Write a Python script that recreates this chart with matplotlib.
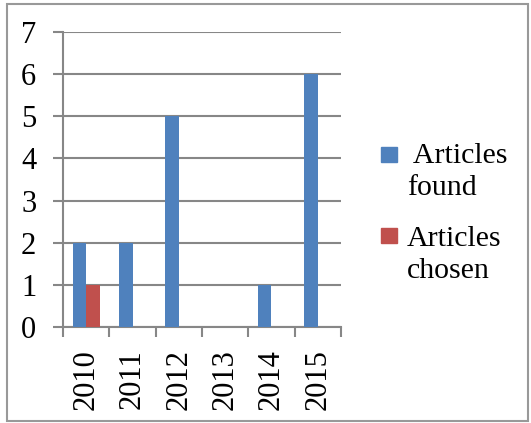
import matplotlib.pyplot as plt
from matplotlib.patches import Rectangle
import numpy as np

years = ['2010', '2011', '2012', '2013', '2014', '2015']
found = [2, 2, 5, 0, 1, 6]
chosen = [1, 0, 0, 0, 0, 0]
labels = [' Articles\nfound', 'Articles\nchosen']
colors = ['#4F81BD', '#C0504D']

W, H = 531, 423
plt.rcParams['font.family'] = ['Liberation Serif', 'DejaVu Serif']

fig = plt.figure(figsize=(W / 100, H / 100), dpi=100)
ax = fig.add_axes([63 / W, (H - 327) / H, (341 - 63) / W, (327 - 32) / H])

x = np.arange(len(years))
w = 0.29
ax.bar(x - w / 2, found, w, color=colors[0], zorder=3)
ax.bar(x + w / 2, chosen, w, color=colors[1], zorder=3)

grey = '#878787'
ax.set_xlim(-0.5, len(years) - 0.5)
ax.set_ylim(0, 7)
ax.set_yticks(range(8))
ax.yaxis.grid(True, color=grey, linewidth=1.5, zorder=0)
for s in ['top', 'right']:
    ax.spines[s].set_visible(False)
for s in ['left', 'bottom']:
    ax.spines[s].set_color(grey)
    ax.spines[s].set_linewidth(1.5)

ax.set_xticks(x)
ax.set_xticklabels(years, rotation=90)
ax.set_xticks(np.arange(len(years) + 1) - 0.5, minor=True)
ax.tick_params(axis='x', which='major', length=0, pad=16, labelsize=22)
ax.tick_params(axis='x', which='minor', length=7.2, width=1.5, color=grey)
ax.tick_params(axis='y', length=7.2, width=1.5, color=grey, pad=12, labelsize=22)

# legend, drawn by hand
sq = [(381, 147), (381, 228)]
tx = [(407, 143), (407, 226)]
for i in range(2):
    fig.patches.append(Rectangle((sq[i][0] / W, 1 - (sq[i][1] + 15) / H), 16 / W, 15 / H,
                                 transform=fig.transFigure, color=colors[i]))
    fig.text(tx[i][0] / W, 1 - tx[i][1] / H, labels[i], fontsize=21.5, va='top',
             ha='left', linespacing=1.28)

fig.patches.append(Rectangle((7 / W, 2 / H), 521 / W, 417 / H, transform=fig.transFigure,
                             fill=False, edgecolor='#999999', linewidth=1.5))

fig.savefig('out.png', dpi=100)
